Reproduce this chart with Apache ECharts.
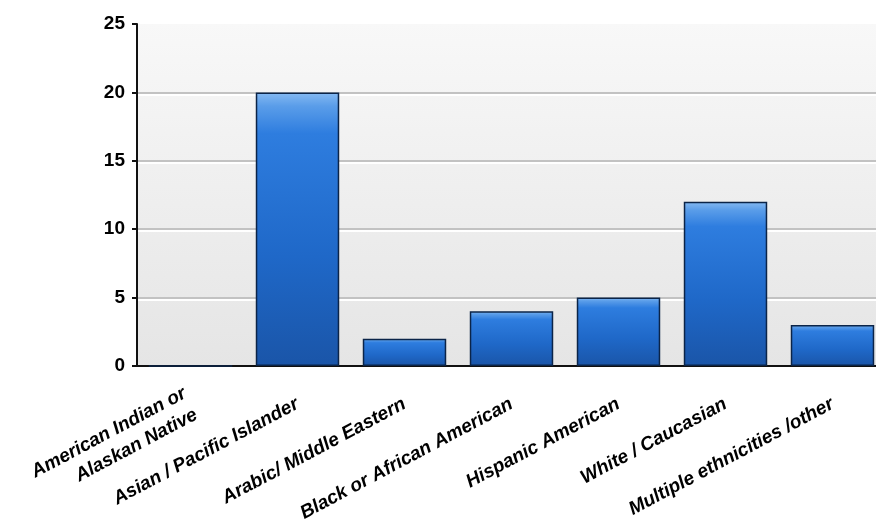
<!DOCTYPE html>
<html>
<head>
<meta charset="utf-8">
<script src="https://cdn.jsdelivr.net/npm/echarts@6/dist/echarts.min.js"></script>
<style>
html,body{margin:0;padding:0;background:#ffffff;}
#chart{width:876px;height:529px;}
</style>
</head>
<body>
<div id="chart"></div>
<script>
const categories = [
  "American Indian or\nAlaskan Native",
  "Asian / Pacific Islander",
  "Arabic/ Middle Eastern",
  "Black or African American",
  "Hispanic American",
  "White / Caucasian",
  "Multiple ethnicities /other"
];
const counts = [0, 20, 2, 4, 5, 12, 3];
const yTicks = [0, 5, 10, 15, 20, 25];

const chart = echarts.init(document.getElementById('chart'), null, {renderer: 'canvas'});
chart.setOption({
  animation: false,
  backgroundColor: '#ffffff',
  grid: {
    left: 137, width: 749, top: 24, bottom: 163,
    outerBoundsMode: 'none',
    containLabel: false,
    show: true,
    borderWidth: 0,
    backgroundColor: new echarts.graphic.LinearGradient(0, 0, 0, 1, [
      {offset: 0, color: '#f8f8f8'},
      {offset: 1, color: '#e5e5e5'}
    ])
  },
  xAxis: {
    type: 'category',
    data: categories,
    axisLine: {lineStyle: {color: '#111', width: 2}},
    axisTick: {alignWithLabel: true, length: 9, lineStyle: {color: '#333', width: 1}},
    axisLabel: {
      interval: 0,
      rotate: 28,
      margin: 37,
      color: '#000',
      fontFamily: 'Liberation Sans, Arial, sans-serif',
      fontWeight: 'bold',
      fontStyle: 'italic',
      fontSize: 19,
      lineHeight: 24
    },
    splitLine: {show: false}
  },
  yAxis: {
    type: 'value',
    min: yTicks[0],
    max: yTicks[yTicks.length - 1],
    interval: yTicks[1] - yTicks[0],
    axisLine: {show: true, lineStyle: {color: '#111', width: 2}},
    axisTick: {show: true, length: 5, lineStyle: {color: '#111', width: 2}},
    axisLabel: {
      margin: 12,
      color: '#000',
      fontFamily: 'Liberation Sans, Arial, sans-serif',
      fontWeight: 'bold',
      fontSize: 19
    },
    splitLine: {
      show: true,
      showMaxLine: false,
      lineStyle: {color: '#c2c2c2', width: 2, shadowColor: '#ffffff', shadowOffsetY: 2, shadowBlur: 0}
    }
  },
  series: [{
    type: 'bar',
    data: counts,
    barCategoryGap: '22%',
    itemStyle: {
      color: new echarts.graphic.LinearGradient(0, 0, 0, 1, [
        {offset: 0, color: '#86baf2'},
        {offset: 0.05, color: '#5a9de9'},
        {offset: 0.15, color: '#2e7ddf'},
        {offset: 0.6, color: '#1f68c8'},
        {offset: 1, color: '#1a55a8'}
      ]),
      borderColor: '#0b2448',
      borderWidth: 1.5
    }
  }]
});
</script>
</body>
</html>
